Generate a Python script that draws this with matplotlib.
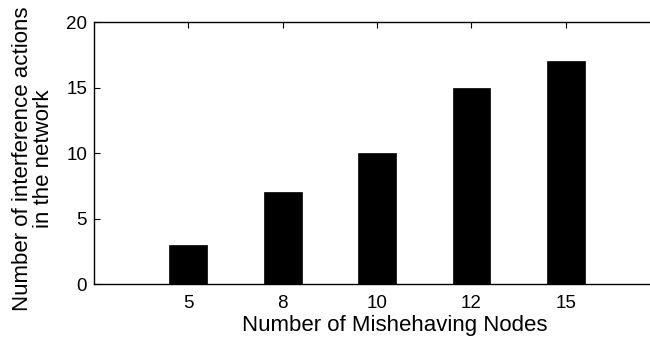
import matplotlib
matplotlib.use("Agg")
import matplotlib.pyplot as plt
import numpy as np

plt.rcParams["font.family"] = ["Liberation Sans", "DejaVu Sans"]

# Data
categories = ["5", "8", "10", "12", "15"]
actions = [3, 7, 10, 15, 17]
yticks = [0, 5, 10, 15, 20]

fig = plt.figure(figsize=(6.5, 3.41), dpi=100)
# axes runs past the right edge of the canvas, as in the reference
ax = fig.add_axes([0.1446, 0.167, 0.871, 0.768])

x = np.arange(1, len(categories) + 1)
ax.bar(x, actions, width=0.4, color="black", edgecolor="black", linewidth=0.5)

ax.set_xlim(0, len(categories) + 1)
ax.set_ylim(0, 20)
ax.set_xticks(x)
ax.set_xticklabels(categories)
ax.set_yticks(yticks)

ax.tick_params(axis="both", direction="in", length=4, width=0.8,
               labelsize=13.5, top=True, right=False)
ax.tick_params(axis="x", pad=8)
ax.tick_params(axis="y", pad=5)
ax.spines["right"].set_visible(False)
for sp in ax.spines.values():
    sp.set_linewidth(1.0)

ax.set_xlabel("Number of Mishehaving Nodes", fontsize=16)
ax.xaxis.set_label_coords(0.532, -0.12, transform=ax.transAxes)
ax.xaxis.label.set_va("top")
ax.set_ylabel("Number of interference actions\nin the network", fontsize=16,
              linespacing=1.0)
ax.yaxis.set_label_coords(-0.071, 0.48, transform=ax.transAxes)

fig.savefig("out.png", dpi=100)
